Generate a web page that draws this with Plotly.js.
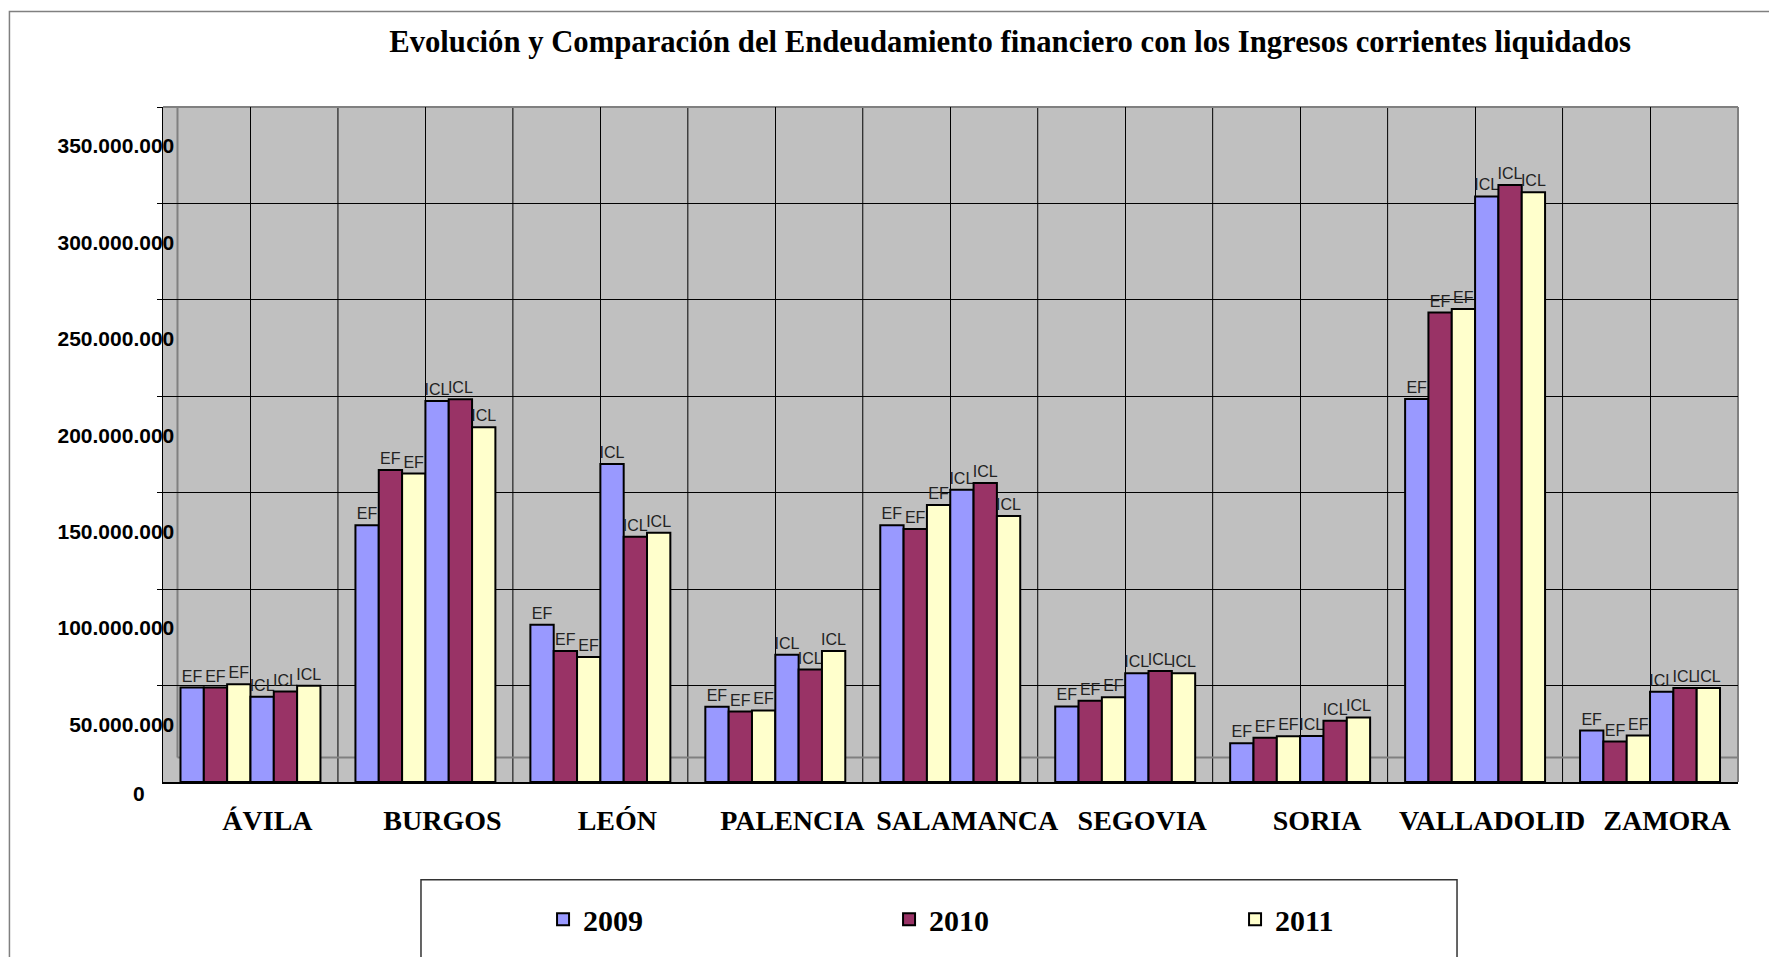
<!DOCTYPE html>
<html>
<head>
<meta charset="utf-8">
<script src="https://cdn.plot.ly/plotly-3.0.1.min.js"></script>
<style>html,body{margin:0;padding:0;background:#fff;}#chart{width:1769px;height:957px;}</style>
</head>
<body>
<div id="chart"></div>
<script>
// ---- data (euros) ----
const categories = ['ÁVILA','BURGOS','LEÓN','PALENCIA','SALAMANCA','SEGOVIA','SORIA','VALLADOLID','ZAMORA'];
const years = ['2009','2010','2011'];
const seriesTags = ['EF','ICL'];
const ef2009  = [49.0e6, 133.1e6, 81.5e6, 39.0e6, 133.1e6, 39.2e6, 20.1e6, 198.6e6, 26.7e6];
const ef2010  = [49.0e6, 161.8e6, 67.9e6, 36.5e6, 131.2e6, 42.1e6, 22.9e6, 243.4e6, 21.0e6];
const ef2011  = [50.7e6, 159.9e6, 64.8e6, 37.1e6, 143.6e6, 44.0e6, 23.7e6, 245.2e6, 24.1e6];
const icl2009 = [44.2e6, 197.5e6, 164.9e6, 66.0e6, 151.5e6, 56.4e6, 23.9e6, 303.6e6, 46.8e6];
const icl2010 = [46.9e6, 198.4e6, 127.2e6, 58.3e6, 155.1e6, 57.5e6, 31.7e6, 309.6e6, 48.8e6];
const icl2011 = [49.9e6, 184.0e6, 129.3e6, 67.9e6, 137.9e6, 56.4e6, 33.5e6, 305.8e6, 48.8e6];
const yTickVals = [0, 50e6, 100e6, 150e6, 200e6, 250e6, 300e6, 350e6];
const yTickText = ['0','50.000.000','100.000.000','150.000.000','200.000.000','250.000.000','300.000.000','350.000.000'];
const titleText = 'Evolución y Comparación del Endeudamiento financiero con los Ingresos corrientes liquidados';

// ---- styles ----
const colors = ['#9999FF', '#993366', '#FFFFCC'];
const serif = 'Liberation Serif, Times New Roman, serif';
const sans = 'Liberation Sans, Arial, sans-serif';

const efSeries = [ef2009, ef2010, ef2011];
const iclSeries = [icl2009, icl2010, icl2011];

function barTrace(vals, yi, tag, showLegend) {
  return {
    type: 'bar', x: categories, y: vals, name: years[yi],
    legendgroup: years[yi], showlegend: showLegend,
    marker: {color: colors[yi], line: {color: '#000', width: 2}},
    text: vals.map(() => tag), textposition: 'outside', cliponaxis: false,
    constraintext: 'none',
    textfont: {family: sans, size: 16, color: '#222'},
    hoverinfo: 'skip'
  };
}
const traces = [];
efSeries.forEach((v, i) => traces.push(barTrace(v, i, seriesTags[0], true)));
iclSeries.forEach((v, i) => traces.push(barTrace(v, i, seriesTags[1], false)));

// decorative frame lines
const shapes = [];
// outer chart border (left + top visible)
shapes.push({type: 'rect', xref: 'paper', yref: 'paper', x0: -0.0975, x1: 1.2, y0: -0.5, y1: 1.1414,
  line: {color: '#808080', width: 1.5}, layer: 'below'});
// legend box
shapes.push({type: 'rect', xref: 'paper', yref: 'paper', x0: 0.1638, x1: 0.8216, y0: -0.45, y1: -0.1448,
  line: {color: '#333', width: 1.5}, layer: 'below'});
// category boundary gridlines
for (let i = 0; i < categories.length; i++) {
  shapes.push({type: 'line', xref: 'x', yref: 'paper', x0: i + 0.5, x1: i + 0.5, y0: 0, y1: 1,
    line: {color: '#000', width: 1}, layer: 'between'});
}
// back wall edges (pseudo 3D)
shapes.push({type: 'line', xref: 'paper', yref: 'paper', x0: 0.0092, x1: 0.0092, y0: 0.0364, y1: 1,
  line: {color: '#808080', width: 2}, layer: 'between'});
shapes.push({type: 'line', xref: 'paper', yref: 'paper', x0: 0.0092, x1: 1, y0: 0.0364, y1: 0.0364,
  line: {color: '#808080', width: 2}, layer: 'between'});
shapes.push({type: 'line', xref: 'paper', yref: 'paper', x0: 0, x1: 1, y0: 1, y1: 1,
  line: {color: '#808080', width: 2}, layer: 'between'});
shapes.push({type: 'line', xref: 'paper', yref: 'paper', x0: 1, x1: 1, y0: 0, y1: 1,
  line: {color: '#808080', width: 2}, layer: 'between'});

const layout = {
  width: 1769, height: 957,
  margin: {l: 163, r: 31, t: 107, b: 171, pad: 0},
  paper_bgcolor: '#ffffff', plot_bgcolor: '#C0C0C0',
  barmode: 'group', bargap: 0.2, bargroupgap: 0,
  title: {text: titleText, font: {family: serif, size: 30.7, weight: 'bold', color: '#000'},
    xref: 'container', x: 0.571, xanchor: 'center', yref: 'container', y: 0.957, yanchor: 'middle'},
  xaxis: {type: 'category', showgrid: true, gridcolor: '#000', gridwidth: 1,
    showline: true, linecolor: '#000', linewidth: 2, ticks: '',
    tickfont: {family: serif, size: 28, weight: 'bold', color: '#000'},
    ticklabelshift: 17, ticklabelstandoff: 12, fixedrange: true},
  yaxis: {range: [0, 350e6], tickmode: 'array', tickvals: yTickVals.slice(1), ticktext: yTickText.slice(1),
    showgrid: true, gridcolor: '#000', gridwidth: 1, zeroline: false,
    showline: true, linecolor: '#000', linewidth: 1.5,
    ticks: 'outside', ticklen: 5, tickcolor: '#000',
    tickfont: {family: sans, size: 21, weight: 'bold', color: '#000'},
    ticklabelshift: 39, ticklabelstandoff: -22, fixedrange: true},
  legend: {orientation: 'h', xref: 'paper', yref: 'paper', x: 0.2413, xanchor: 'left', y: -0.2035, yanchor: 'middle',
    font: {family: serif, size: 30, weight: 'bold', color: '#000'},
    entrywidth: 301, entrywidthmode: 'pixels', bgcolor: 'rgba(0,0,0,0)', borderwidth: 0,
    traceorder: 'normal'},
  shapes: shapes,
  annotations: [{xref: 'paper', yref: 'y', x: 0, y: yTickVals[0], text: yTickText[0],
    xanchor: 'right', yanchor: 'middle', xshift: -16, yshift: -11, showarrow: false,
    font: {family: sans, size: 21, weight: 'bold', color: '#000'}}],
  hovermode: false
};

Plotly.newPlot('chart', traces, layout, {displayModeBar: false, staticPlot: true});
</script>
</body>
</html>
